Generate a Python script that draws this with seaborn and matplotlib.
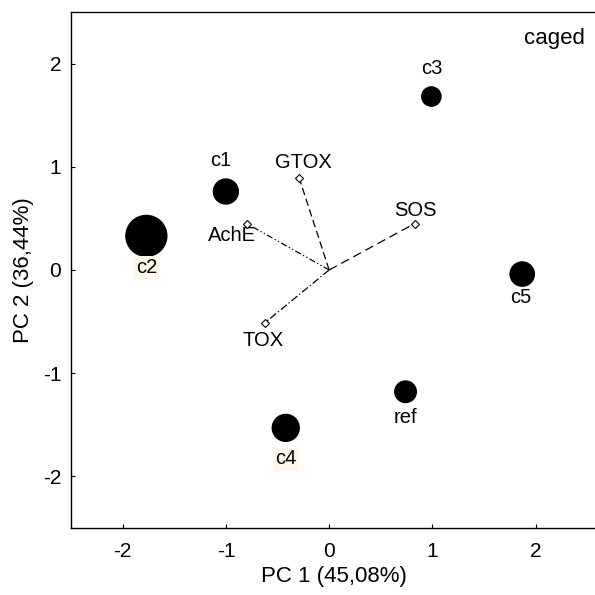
import matplotlib
matplotlib.use("Agg")
import matplotlib.pyplot as plt
import seaborn as sns
import pandas as pd

# sample scores (PC1, PC2) and bubble weight
samples = ["c1", "c2", "c3", "c4", "c5", "ref"]
pc1 = [-1.00, -1.77, 0.99, -0.42, 1.87, 0.74]
pc2 = [0.76, 0.33, 1.68, -1.53, -0.04, -1.18]
weight = [317, 858, 188, 369, 299, 235]

# variable loadings
variables = ["GTOX", "AchE", "SOS", "TOX"]
load1 = [-0.29, -0.80, 0.83, -0.62]
load2 = [0.89, 0.45, 0.45, -0.51]

sns.set_style("white")
plt.rcParams["font.family"] = ["Liberation Sans", "DejaVu Sans"]
plt.rcParams["axes.unicode_minus"] = False
plt.rcParams["text.color"] = "black"
plt.rcParams["axes.labelcolor"] = "black"
plt.rcParams["xtick.color"] = "black"
plt.rcParams["ytick.color"] = "black"

df = pd.DataFrame({"sample": samples, "PC1": pc1, "PC2": pc2, "w": weight})

fig, ax = plt.subplots(figsize=(5.95, 5.95), dpi=100)

sns.scatterplot(data=df, x="PC1", y="PC2", size="w", sizes=(min(weight), max(weight)),
                size_norm=(min(weight), max(weight)), color="black", edgecolor="black",
                legend=False, ax=ax, zorder=3)

# loading vectors
styles = {"GTOX": (0, (6, 3)), "AchE": (0, (5, 2, 1, 2, 1, 2)),
          "SOS": (0, (7, 4)), "TOX": (0, (6, 2, 1, 2))}
for v, a, b in zip(variables, load1, load2):
    ax.plot([0, a], [0, b], color="black", lw=0.9, ls=styles[v], zorder=2)
    ax.plot(a, b, marker="D", ms=4.5, mfc="white", mec="black", mew=0.8, zorder=4)

# sample labels
lab_off = {"c1": (-0.05, 0.30), "c2": (0.0, -0.31), "c3": (0.0, 0.27),
           "c4": (0.0, -0.30), "c5": (-0.01, -0.23), "ref": (0.0, -0.25)}
for s, x, y in zip(samples, pc1, pc2):
    dx, dy = lab_off[s]
    kw = {}
    if s in ("c2", "c4"):
        kw["bbox"] = dict(boxstyle="square,pad=0.12", fc="#fdf8ea", ec="none")
    ax.text(x + dx, y + dy, s, ha="center", va="center", fontsize=14.5, **kw)

var_off = {"GTOX": (0.04, 0.155), "AchE": (-0.14, -0.12), "SOS": (0.01, 0.13),
           "TOX": (-0.02, -0.17)}
for v, a, b in zip(variables, load1, load2):
    dx, dy = var_off[v]
    ax.text(a + dx, b + dy, v, ha="center", va="center", fontsize=14.5)

ax.text(0.976, 0.948, "caged", transform=ax.transAxes, ha="right", va="center", fontsize=16)

ax.set_xlim(-2.5, 2.6)
ax.set_ylim(-2.5, 2.5)
ax.set_xticks([-2, -1, 0, 1, 2])
ax.set_yticks([-2, -1, 0, 1, 2])
ax.tick_params(direction="in", length=3, width=0.8, labelsize=15,
               bottom=True, left=True)
ax.tick_params(axis="x", pad=10)
ax.tick_params(axis="y", pad=7)
ax.set_xlabel("PC 1 (45,08%)", fontsize=16, labelpad=4)
ax.set_ylabel("PC 2 (36,44%)", fontsize=16, labelpad=6)
for sp in ax.spines.values():
    sp.set_color("black")
    sp.set_linewidth(1.0)

fig.subplots_adjust(left=0.1193, right=1.0044, bottom=0.1126, top=0.980)
fig.savefig("out.png", dpi=100)
